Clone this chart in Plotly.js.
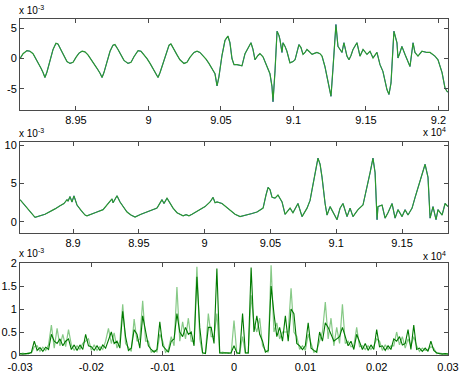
<!DOCTYPE html>
<html>
<head>
<meta charset="utf-8">
<script src="https://cdn.plot.ly/plotly-3.0.1.min.js"></script>
<style>html,body{margin:0;padding:0;background:#fff;}#chart{width:460px;height:374px;}</style>
</head>
<body>
<div id="chart"></div>
<script>
// ---------- Panel 1: signal (x in units of 1e4, y in units of 1e-3) ----------
const sigX = [8.9114,8.9135,8.9162,8.9183,8.9204,8.9231,8.9259,8.9273,8.9286,8.9300,8.9321,8.9342,8.9362,8.9376,8.9397,8.9417,8.9438,8.9459,8.9480,8.9500,8.9521,8.9542,8.9562,8.9583,8.9604,8.9624,8.9645,8.9666,8.9680,8.9693,8.9714,8.9735,8.9755,8.9769,8.9790,8.9811,8.9831,8.9859,8.9880,8.9900,8.9928,8.9949,8.9969,8.9990,9.0011,9.0031,9.0052,9.0066,9.0080,9.0100,9.0121,9.0142,9.0155,9.0176,9.0197,9.0217,9.0245,9.0266,9.0286,9.0314,9.0335,9.0355,9.0376,9.0397,9.0417,9.0438,9.0459,9.0473,9.0486,9.0507,9.0528,9.0548,9.0562,9.0576,9.0590,9.0611,9.0631,9.0645,9.0666,9.0686,9.0707,9.0721,9.0735,9.0755,9.0769,9.0790,9.0817,9.0838,9.0852,9.0859,9.0873,9.0887,9.0900,9.0907,9.0921,9.0928,9.0942,9.0955,9.0976,9.0997,9.1011,9.1024,9.1038,9.1052,9.1066,9.1080,9.1093,9.1107,9.1128,9.1149,9.1162,9.1183,9.1197,9.1217,9.1238,9.1259,9.1273,9.1286,9.1293,9.1307,9.1321,9.1335,9.1348,9.1369,9.1383,9.1397,9.1411,9.1438,9.1459,9.1480,9.1507,9.1528,9.1549,9.1576,9.1597,9.1617,9.1645,9.1659,9.1673,9.1680,9.1693,9.1714,9.1721,9.1735,9.1748,9.1769,9.1790,9.1804,9.1825,9.1838,9.1859,9.1886,9.1921,9.1942,9.1976,9.1997,9.2025,9.2045,9.2059,9.2066];
const sigY = [0.0,0.8,1.3,1.2,0.8,-0.3,-1.6,-2.3,-3.1,-2.2,-0.5,1.5,2.5,2.4,1.4,0.4,-0.5,-0.8,-0.6,0.2,0.9,1.2,1.1,0.6,-0.1,-0.9,-1.6,-2.4,-3.1,-2.3,-0.6,1.2,2.2,2.3,1.5,0.5,-0.3,-0.8,-0.6,0.3,1.3,1.2,0.7,0.0,-0.8,-1.6,-2.4,-3.1,-2.3,-0.8,1.0,2.2,2.4,1.6,0.6,-0.2,-0.8,-0.6,0.2,1.0,1.2,1.0,0.5,-0.1,-0.8,-1.6,-2.5,-4.5,-3.0,0.5,3.0,3.7,2.6,0.0,-1.0,-1.0,-1.1,-1.2,0.8,1.8,2.6,1.5,-0.2,0.5,0.8,0.3,-1.3,-2.5,-4.6,-7.1,-2.0,4.5,3.8,3.1,1.0,2.6,2.0,1.2,-0.7,-0.5,-0.2,1.0,2.3,1.8,0.7,1.0,1.5,1.2,0.7,0.9,1.0,0.8,0.4,-1.3,-4.0,-6.2,-1.5,3.0,5.6,2.0,1.5,1.0,2.6,0.4,-0.2,0.5,1.5,2.6,0.4,1.5,0.7,1.2,0.1,1.0,-1.0,-2.1,-5.1,-5.9,-4.0,-1.3,4.5,2.6,0.1,1.0,2.0,0.7,-0.5,-1.3,2.6,1.0,0.4,1.2,1.0,1.0,0.4,-0.2,-2.3,-4.8,-5.4,-5.5];

// ---------- Panel 2: envelope (x in units of 1e4, y in units of 1e-3) ----------
const envX = [8.8597,8.8650,8.8711,8.8787,8.8825,8.8863,8.8901,8.8931,8.8954,8.8962,8.8977,8.8992,8.9007,8.9030,8.9061,8.9091,8.9106,8.9144,8.9182,8.9228,8.9266,8.9296,8.9304,8.9334,8.9357,8.9380,8.9410,8.9440,8.9471,8.9516,8.9562,8.9600,8.9638,8.9676,8.9691,8.9714,8.9737,8.9760,8.9790,8.9836,8.9859,8.9881,8.9904,8.9965,9.0003,9.0041,9.0064,9.0079,9.0094,9.0132,9.0162,9.0193,9.0231,9.0269,9.0322,9.0360,9.0398,9.0444,9.0466,9.0482,9.0497,9.0512,9.0535,9.0557,9.0588,9.0611,9.0649,9.0671,9.0709,9.0740,9.0778,9.0801,9.0816,9.0839,9.0861,9.0877,9.0892,9.0915,9.0930,9.0953,9.0975,9.1006,9.1029,9.1051,9.1082,9.1105,9.1127,9.1165,9.1203,9.1234,9.1257,9.1279,9.1295,9.1310,9.1317,9.1348,9.1371,9.1393,9.1424,9.1447,9.1469,9.1500,9.1523,9.1545,9.1576,9.1599,9.1637,9.1675,9.1697,9.1713,9.1735,9.1758,9.1773,9.1804,9.1827,9.1849];
const envY = [2.9,1.8,0.6,1.0,1.3,1.7,2.1,2.4,2.9,2.7,3.3,2.6,3.4,2.2,1.5,0.9,0.8,1.0,1.3,1.6,2.4,3.0,2.5,3.4,2.6,2.0,1.3,0.9,0.65,1.0,1.3,1.5,1.8,2.9,2.4,3.1,2.4,1.8,1.2,0.8,0.95,0.8,1.0,1.6,2.0,2.6,3.2,2.5,2.6,2.4,2.0,1.6,1.0,0.7,0.9,1.1,1.3,1.8,3.5,4.5,4.2,3.2,3.1,3.5,2.6,1.0,1.8,1.2,2.4,0.7,1.8,2.8,4.2,6.5,8.3,7.5,5.8,2.4,0.9,2.0,1.2,0.3,1.8,2.4,0.7,1.8,0.7,1.6,2.2,4.5,6.4,8.3,6.4,0.3,2.0,2.2,0.5,1.2,2.4,0.5,1.6,0.7,1.6,0.9,1.8,3.2,5.4,7.5,5.8,0.5,2.0,0.3,1.6,0.9,2.4,2.0];

// ---------- Panel 3: spectrum (frequency grid starts at -0.03, step 0.0004; y in units of 1e-3) ----------
const freqStart = -0.03, freqStep = 0.0004;
const specDark = [0.03,0.02,0.03,0.03,0.06,0.30,0.10,0.16,0.08,0.17,0.12,0.45,0.30,0.25,0.35,0.20,0.30,0.35,0.12,0.22,0.10,0.22,0.12,0.45,0.20,0.18,0.10,0.20,0.10,0.22,0.15,0.35,0.50,0.25,0.30,0.15,0.95,0.40,0.10,0.15,0.55,0.45,0.15,0.85,0.50,0.20,0.12,0.06,0.12,0.72,0.20,0.12,0.06,0.30,0.35,0.90,0.50,0.40,0.60,0.45,0.50,0.20,1.70,0.60,0.05,0.03,0.60,0.60,0.25,1.88,0.05,0.04,0.05,0.04,0.05,0.20,0.05,0.03,0.90,0.05,0.04,1.90,0.50,0.85,0.45,0.30,0.06,0.10,1.50,0.90,0.40,0.60,0.30,0.85,0.30,1.00,0.90,0.25,0.20,0.12,0.20,0.70,0.15,0.10,0.06,0.50,0.30,0.70,0.60,0.45,0.30,0.35,0.40,0.60,0.40,0.20,0.30,0.12,0.45,0.30,0.12,0.25,0.10,0.22,0.12,0.55,0.18,0.20,0.10,0.20,0.12,0.35,0.30,0.40,0.22,0.25,0.55,0.12,0.65,0.12,0.15,0.08,0.15,0.08,0.30,0.10,0.05,0.03,0.02,0.03,0.02];
const specLight = [0.02,0.04,0.02,0.05,0.04,0.18,0.20,0.08,0.17,0.10,0.22,0.65,0.15,0.58,0.20,0.45,0.18,0.55,0.22,0.10,0.20,0.12,0.25,0.30,0.35,0.10,0.22,0.10,0.18,0.12,0.30,0.58,0.25,0.48,0.15,0.30,1.10,0.25,0.15,0.08,0.78,0.30,0.35,1.18,0.30,0.30,0.06,0.10,0.07,0.45,0.30,0.06,0.12,0.40,0.20,1.48,0.30,0.72,0.35,0.80,0.30,0.30,1.92,0.35,0.03,0.05,0.90,0.40,0.40,0.90,0.04,0.06,0.04,0.05,0.03,0.75,0.03,0.05,0.40,0.04,0.06,1.30,0.70,0.50,0.80,0.20,0.10,0.06,1.95,0.50,0.70,0.35,0.50,0.50,0.50,1.45,0.50,0.40,0.12,0.20,0.10,0.45,0.25,0.06,0.10,0.30,0.50,1.15,0.35,0.80,0.20,0.60,0.25,1.10,0.25,0.30,0.18,0.20,0.60,0.18,0.20,0.12,0.20,0.12,0.20,0.35,0.30,0.10,0.22,0.12,0.20,0.20,0.50,0.22,0.40,0.15,0.35,0.20,0.40,0.20,0.08,0.15,0.10,0.12,0.18,0.15,0.03,0.04,0.03,0.02,0.03];

// ---------- Tick labels ----------
const ticks1 = [8.95, 9, 9.05, 9.1, 9.15, 9.2];
const ticks2 = [8.9, 8.95, 9, 9.05, 9.1, 9.15];
const ticks3 = [-0.03, -0.02, -0.01, 0, 0.01, 0.02, 0.03];
const ticks3Text = ['-0.03', '-0.02', '-0.01', '0', '0.01', '0.02', '0.03'];
const yTicks1 = [-5, 0, 5];
const yTicks1Text = ['-5', '0', '5'];
const yTicks2 = [0, 5, 10];
const yTicks3 = [0, 0.5, 1, 1.5, 2];

const BLUE = '#2020ff', GREEN = '#2c9a2c', DARKG = '#007a00', LIGHTG = '#86c986';

const traces = [
  {x: sigX, y: sigY, xaxis: 'x', yaxis: 'y', type: 'scatter', mode: 'lines', line: {color: BLUE, width: 0.8}},
  {x: sigX, y: sigY, xaxis: 'x', yaxis: 'y', type: 'scatter', mode: 'lines', line: {color: GREEN, width: 1.2}},
  {x: envX, y: envY, xaxis: 'x2', yaxis: 'y2', type: 'scatter', mode: 'lines', line: {color: BLUE, width: 0.8}},
  {x: envX, y: envY, xaxis: 'x2', yaxis: 'y2', type: 'scatter', mode: 'lines', line: {color: GREEN, width: 1.2}},
  {x0: freqStart, dx: freqStep, y: specLight, xaxis: 'x3', yaxis: 'y3', type: 'scatter', mode: 'lines', line: {color: LIGHTG, width: 1.2}},
  {x0: freqStart, dx: freqStep, y: specDark, xaxis: 'x3', yaxis: 'y3', type: 'scatter', mode: 'lines', line: {color: DARKG, width: 1.1}}
];

const tf = {family: 'Liberation Sans, Arial, sans-serif', size: 11, color: '#000'};
function ax(extra) {
  return Object.assign({
    showline: true, linecolor: '#4a4a4a', linewidth: 1, mirror: 'ticks',
    ticks: 'inside', ticklen: 4, tickcolor: '#4a4a4a', tickwidth: 1,
    showgrid: false, zeroline: false, tickfont: tf, fixedrange: true
  }, extra);
}

const af = {family: 'Liberation Sans, Arial, sans-serif', size: 10, color: '#000'};
function ann(text, x, y, xanchor) {
  return {text: text, x: x, y: y, xref: 'paper', yref: 'paper', xanchor: xanchor, yanchor: 'middle', showarrow: false, font: af};
}

const layout = {
  width: 460, height: 374,
  margin: {l: 20, r: 12, t: 19, b: 19},
  paper_bgcolor: '#fff', plot_bgcolor: '#fff',
  showlegend: false,
  xaxis: ax({domain: [0, 1], anchor: 'y', range: [8.9114, 9.2066], tickvals: ticks1}),
  yaxis: ax({domain: [0.7292, 1], anchor: 'x', range: [-8.45, 6.5], tickvals: yTicks1, ticktext: yTicks1Text}),
  xaxis2: ax({domain: [0, 1], anchor: 'y2', range: [8.8597, 9.1849], tickvals: ticks2}),
  yaxis2: ax({domain: [0.3631, 0.6339], anchor: 'x2', range: [-1.43, 10.39], tickvals: yTicks2}),
  xaxis3: ax({domain: [0, 1], anchor: 'y3', range: [-0.03, 0.03], tickvals: ticks3, ticktext: ticks3Text, ticklabelstandoff: 2}),
  yaxis3: ax({domain: [0, 0.2738], anchor: 'x3', range: [0, 2], tickvals: yTicks3}),
  annotations: [
    ann('x 10<sup>-3</sup>', -0.006, 1.027, 'left'),
    ann('x 10<sup>4</sup>', 1.0, 0.664, 'right'),
    ann('x 10<sup>-3</sup>', -0.006, 0.661, 'left'),
    ann('x 10<sup>4</sup>', 1.0, 0.296, 'right'),
    ann('x 10<sup>-3</sup>', -0.006, 0.304, 'left')
  ]
};

Plotly.newPlot('chart', traces, layout, {staticPlot: true, displayModeBar: false});
</script>
</body>
</html>
